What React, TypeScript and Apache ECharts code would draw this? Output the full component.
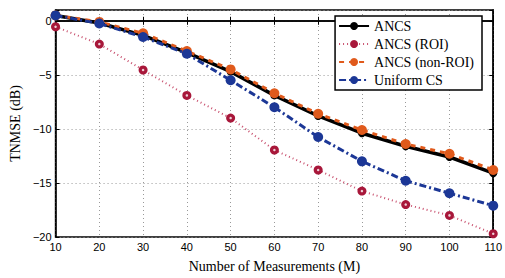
import React, { useEffect, useRef } from "react";
import * as echarts from "echarts";

const measurements = [10, 20, 30, 40, 50, 60, 70, 80, 90, 100, 110];
const ancs = [0.5, -0.2, -1.35, -2.95, -4.7, -6.9, -8.8, -10.4, -11.6, -12.6, -14.1];
const ancsRoi = [-0.55, -2.15, -4.55, -6.9, -9.0, -11.95, -13.8, -15.75, -17.0, -18.0, -19.7];
const ancsNonRoi = [0.5, -0.1, -1.15, -2.8, -4.5, -6.7, -8.6, -10.1, -11.4, -12.3, -13.8];
const uniformCs = [0.5, -0.25, -1.5, -3.05, -5.5, -8.0, -10.75, -13.0, -14.8, -15.95, -17.1];
const seriesNames = ["ANCS", "ANCS (ROI)", "ANCS (non-ROI)", "Uniform CS"];
const yTicks = [-20, -15, -10, -5, 0];

const toPairs = (ys: number[]) => measurements.map((x, i) => [x, ys[i]]);

export default function App() {
  const ref = useRef<HTMLDivElement>(null);
  useEffect(() => {
    const chart = echarts.init(ref.current!, null, { renderer: "svg" });
    const tickFont = { fontFamily: "Liberation Sans", fontSize: 11, color: "#000" };
    const serif = { fontFamily: "Liberation Serif", fontSize: 14, color: "#000" };
    const grid = { show: true, lineStyle: { color: "#999", type: [1, 3] as any, width: 1 } };
    chart.setOption({
      animation: false,
      backgroundColor: "#fff",
      grid: { left: 51, right: 10, top: 10, bottom: 38, show: true, borderColor: "#000", borderWidth: 1.5 },
      legend: {
        orient: "vertical",
        right: 23,
        top: 16,
        data: seriesNames,
        backgroundColor: "#fff",
        borderColor: "#000",
        borderWidth: 1.5,
        borderRadius: 0,
        padding: [3, 8, 3, 3],
        itemWidth: 30,
        itemHeight: 10,
        itemGap: 4,
        textStyle: { ...serif, fontSize: 14 },
      },
      xAxis: [
        {
          type: "value",
          min: 10,
          max: 110,
          interval: 10,
          name: "Number of Measurements (M)",
          nameLocation: "middle",
          nameGap: 22,
          nameTextStyle: serif,
          axisLine: { lineStyle: { color: "#000", width: 1.5 } },
          axisTick: { inside: true, length: 4, lineStyle: { color: "#000" } },
          axisLabel: { ...tickFont, margin: 4 },
          splitLine: grid,
        },
        {
          type: "value",
          position: "top",
          min: 10,
          max: 110,
          interval: 10,
          axisLine: { lineStyle: { color: "#000", width: 1.5 } },
          axisTick: { inside: true, length: 4, lineStyle: { color: "#000" } },
          axisLabel: { show: false },
          splitLine: { show: false },
        },
      ],
      yAxis: [
        {
          type: "value",
          min: -20,
          max: 1,
          interval: 5,
          name: "TNMSE (dB)",
          nameLocation: "middle",
          nameGap: 30,
          nameTextStyle: serif,
          axisLine: { lineStyle: { color: "#000", width: 1.5 } },
          axisTick: { inside: true, length: 4, lineStyle: { color: "#000" } },
          axisLabel: {
            ...tickFont,
            margin: 4,
            formatter: (v: number) => (yTicks.includes(v) ? (v < 0 ? "\u2212" + Math.abs(v) : String(v)) : ""),
          },
          splitLine: grid,
        },
        {
          type: "value",
          position: "right",
          min: -20,
          max: 1,
          interval: 5,
          axisLine: { lineStyle: { color: "#000", width: 1.5 } },
          axisTick: { inside: true, length: 4, lineStyle: { color: "#000" } },
          axisLabel: { show: false },
          splitLine: { show: false },
        },
      ],
      series: [
        {
          name: seriesNames[0],
          type: "line",
          data: toPairs(ancs),
          color: "#000",
          symbol: "circle",
          symbolSize: 8,
          lineStyle: { color: "#000", width: 3.5 },
          itemStyle: { color: "#000" },
          z: 3,
        },
        {
          name: seriesNames[1],
          type: "line",
          data: toPairs(ancsRoi),
          color: "#a8173a",
          symbol: "circle",
          symbolSize: 9,
          lineStyle: { color: "#c8506e", width: 2, type: [1, 3] },
          itemStyle: { color: "#a8173a" },
          z: 2,
        },
        {
          name: "roi-centre",
          type: "scatter",
          data: toPairs(ancsRoi),
          symbol: "circle",
          symbolSize: 2.5,
          silent: true,
          itemStyle: { color: "#fff" },
          z: 2,
          zlevel: 0,
        },
        {
          name: seriesNames[2],
          type: "line",
          data: toPairs(ancsNonRoi),
          color: "#e05a1c",
          symbol: "circle",
          symbolSize: 10,
          lineStyle: { color: "#e05a1c", width: 3, type: [5, 5] },
          itemStyle: { color: "#e05a1c" },
          z: 4,
        },
        {
          name: seriesNames[3],
          type: "line",
          data: toPairs(uniformCs),
          color: "#1c3796",
          symbol: "circle",
          symbolSize: 10,
          lineStyle: { color: "#1c3796", width: 3, type: [7, 3, 2, 3] },
          itemStyle: { color: "#1c3796" },
          z: 5,
        },
      ],
    });
    return () => chart.dispose();
  }, []);
  return <div ref={ref} style={{ position: "fixed", left: 0, top: 0, width: 505, height: 278 }} />;
}
